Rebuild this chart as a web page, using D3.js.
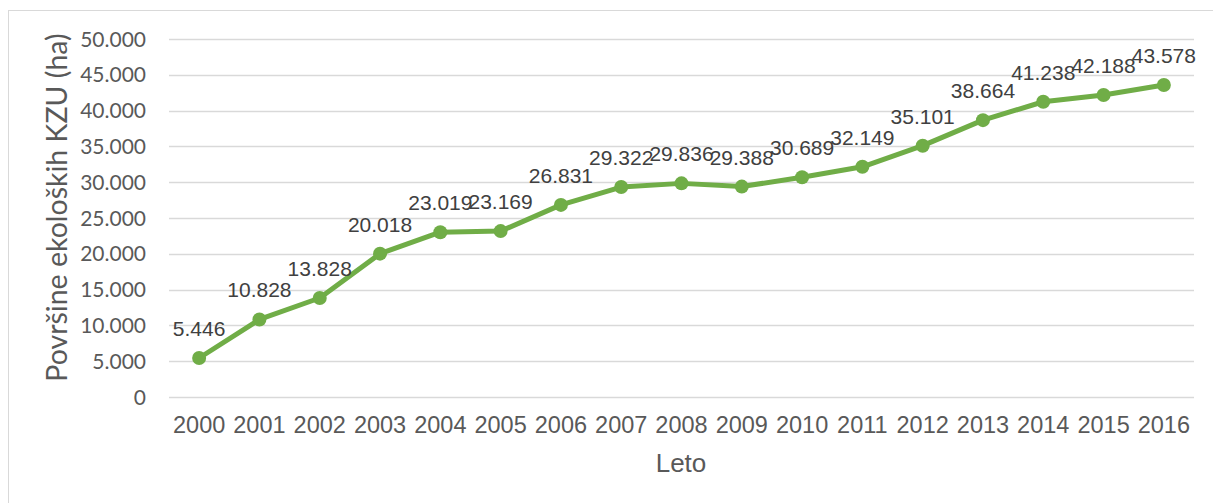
<!DOCTYPE html>
<html>
<head>
<meta charset="utf-8">
<script src="https://cdn.jsdelivr.net/npm/d3@7"></script>
<style>
  html, body { margin: 0; padding: 0; background: #fff; }
  svg { display: block; }
</style>
</head>
<body>
<svg id="chart" width="1213" height="503"></svg>
<script>
// Years and organic farmland area (ha)
const years = ["2000","2001","2002","2003","2004","2005","2006","2007","2008","2009","2010","2011","2012","2013","2014","2015","2016"];
const areaHa = [5446,10828,13828,20018,23019,23169,26831,29322,29836,29388,30689,32149,35101,38664,41238,42188,43578];
const yTicks = [0,5000,10000,15000,20000,25000,30000,35000,40000,45000,50000];
const yTitle = "Površine ekoloških KZU (ha)";
const xTitle = "Leto";

const svg = d3.select("#chart");
const textColor = "#595959";
const lineColor = "#70AD47";

// Slovenian number format: dot as thousands separator
const fmt = d3.formatLocale({ decimal: ",", thousands: ".", grouping: [3], currency: ["", " €"] }).format(",d");

// chart border
svg.append("rect")
  .attr("x", 8.5).attr("y", 10.5)
  .attr("width", 1220).attr("height", 520)
  .attr("fill", "#fff").attr("stroke", "#d9d9d9").attr("stroke-width", 1);

const plot = { left: 169, right: 1194, top: 39, bottom: 397 };

const x = d3.scaleBand().domain(years).range([plot.left, plot.right]).paddingInner(0).paddingOuter(0);
const y = d3.scaleLinear().domain([0, 50000]).range([plot.bottom, plot.top]);

// horizontal gridlines
svg.append("g")
  .selectAll("line")
  .data(yTicks)
  .join("line")
  .attr("x1", plot.left).attr("x2", plot.right)
  .attr("y1", d => Math.round(y(d)) + 0.5).attr("y2", d => Math.round(y(d)) + 0.5)
  .attr("stroke", "#d9d9d9").attr("stroke-width", 1.3);

// y axis labels
const yAxis = d3.axisLeft(y).tickValues(yTicks).tickFormat(d => fmt(d)).tickSize(0).tickPadding(0);
const gy = svg.append("g").attr("transform", `translate(146,0)`).call(yAxis);
gy.select(".domain").remove();
gy.selectAll("text")
  .attr("font-family", "Lato, 'Open Sans', sans-serif")
  .attr("font-size", 21)
  .attr("fill", textColor)
  .attr("dy", "0.34em");

// x axis labels
const xAxis = d3.axisBottom(x).tickSize(0).tickPadding(0);
const gx = svg.append("g").attr("transform", `translate(0,433)`).call(xAxis);
gx.select(".domain").remove();
gx.selectAll("text")
  .attr("font-family", "'Liberation Sans', Arial, sans-serif")
  .attr("font-size", 23.5)
  .attr("fill", textColor)
  .attr("dy", 0);

// axis titles
svg.append("text")
  .attr("transform", `translate(67,${(27 + 388) / 2}) rotate(-90)`)
  .attr("text-anchor", "middle")
  .attr("font-family", "Lato, 'Open Sans', sans-serif")
  .attr("font-size", 28.5)
  .attr("fill", textColor)
  .text(yTitle);

svg.append("text")
  .attr("x", 681).attr("y", 472)
  .attr("text-anchor", "middle")
  .attr("font-family", "'Liberation Sans', Arial, sans-serif")
  .attr("font-size", 26)
  .attr("fill", textColor)
  .text(xTitle);

const cx = (d, i) => x(years[i]) + x.bandwidth() / 2;

// series line
const line = d3.line().x((d, i) => cx(d, i)).y(d => y(d));
svg.append("path")
  .datum(areaHa)
  .attr("d", line)
  .attr("fill", "none")
  .attr("stroke", lineColor)
  .attr("stroke-width", 5)
  .attr("stroke-linejoin", "round")
  .attr("stroke-linecap", "round");

// markers
svg.append("g")
  .selectAll("circle")
  .data(areaHa)
  .join("circle")
  .attr("cx", cx)
  .attr("cy", d => y(d))
  .attr("r", 7)
  .attr("fill", lineColor);

// value labels above each point
svg.append("g")
  .selectAll("text")
  .data(areaHa)
  .join("text")
  .attr("x", cx)
  .attr("y", d => y(d) - 22)
  .attr("text-anchor", "middle")
  .attr("font-family", "'Liberation Sans', Arial, sans-serif")
  .attr("font-size", 21)
  .attr("fill", "#404040")
  .text(d => fmt(d));
</script>
</body>
</html>
